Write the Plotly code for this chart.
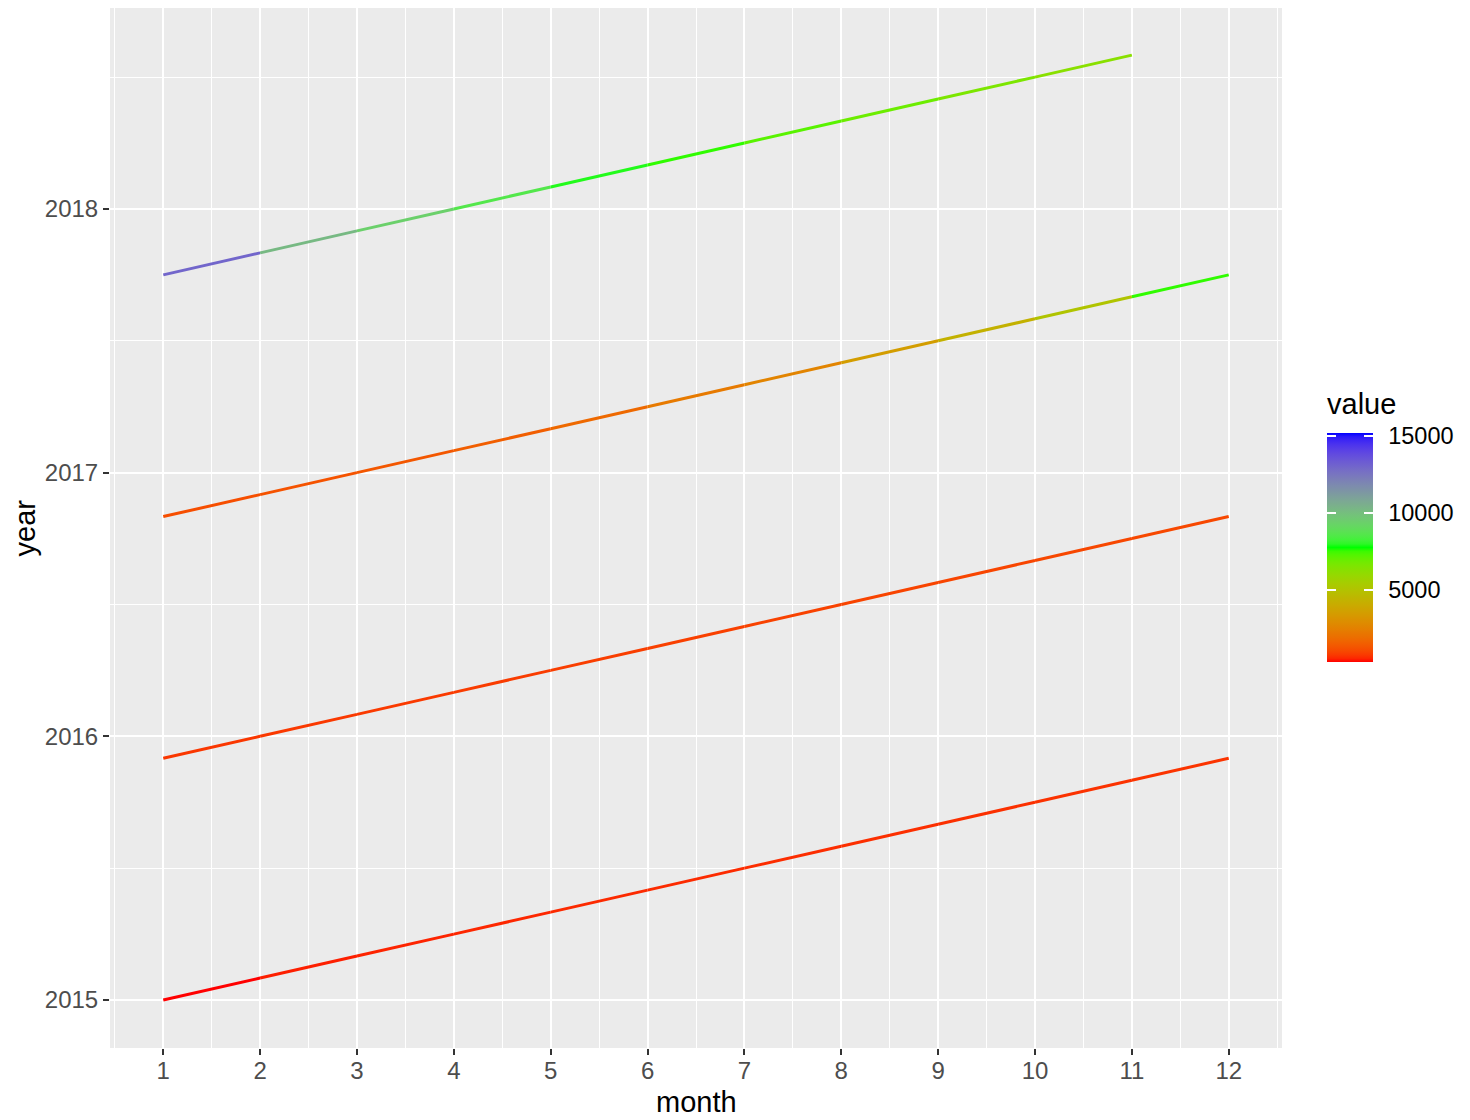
import plotly.graph_objects as go
import numpy as np

# ---------------- data ----------------
months = list(range(1, 13))
years = [2015, 2016, 2017, 2018]

# y position of each point (decimal year as drawn)
y_2015 = [2015 + (m - 1) / 12 for m in months]
y_2016 = [2015 + 11 / 12 + (m - 1) / 12 for m in months]
y_2017 = [2016 + 10 / 12 + (m - 1) / 12 for m in months]
y_2018 = [2017 + 9 / 12 + (m - 1) / 12 for m in months[:11]]

value_2015 = [325, 480, 520, 550, 580, 600, 620, 640, 660, 680, 700, 720]
value_2016 = [750, 780, 800, 830, 860, 890, 920, 950, 980, 1010, 1040, 1070]
value_2017 = [1150, 1250, 1350, 1500, 1800, 2300, 2600, 3500, 4300, 5100, 7600, 15200]
value_2018 = [13000, 10200, 9400, 8600, 7900, 7600, 7200, 6900, 6600, 6300, 6100]

series = [
    (months, y_2015, value_2015),
    (months, y_2016, value_2016),
    (months, y_2017, value_2017),
    (months[:11], y_2018, value_2018),
]

colorbar_ticks = [5000, 10000, 15000]
vmin = min(min(s[2]) for s in series)
vmax = max(max(s[2]) for s in series)

# ---------------- colour ramp (Lab interpolation like ggplot gradientn) ----------------
def _lin(c):
    c = c / 255.0
    return np.where(c <= 0.04045, c / 12.92, ((c + 0.055) / 1.055) ** 2.4)

def _delin(c):
    c = np.where(c <= 0.0031308, 12.92 * c, 1.055 * np.power(np.clip(c, 0, None), 1 / 2.4) - 0.055)
    return np.clip(c, 0, 1) * 255

M = np.array([[0.4124564, 0.3575761, 0.1804375],
              [0.2126729, 0.7151522, 0.0721750],
              [0.0193339, 0.1191920, 0.9503041]])
Minv = np.linalg.inv(M)
WHITE = np.array([0.95047, 1.0, 1.08883])

def rgb2lab(rgb):
    xyz = M @ _lin(np.array(rgb, dtype=float)) / WHITE
    f = np.where(xyz > 216 / 24389, np.cbrt(xyz), (24389 / 27 * xyz + 16) / 116)
    return np.array([116 * f[1] - 16, 500 * (f[0] - f[1]), 200 * (f[1] - f[2])])

def lab2rgb(lab):
    L, a, b = lab
    fy = (L + 16) / 116
    fx = fy + a / 500
    fz = fy - b / 200
    f = np.array([fx, fy, fz])
    xyz = np.where(f ** 3 > 216 / 24389, f ** 3, (116 * f - 16) / (24389 / 27)) * WHITE
    return _delin(Minv @ xyz)

ramp = [rgb2lab(c) for c in [(255, 0, 0), (0, 255, 0), (0, 0, 255)]]

def color_at(frac):
    frac = min(max(frac, 0.0), 1.0)
    seg = min(int(frac * 2), 1)
    t = frac * 2 - seg
    lab = ramp[seg] * (1 - t) + ramp[seg + 1] * t
    r, g, b = lab2rgb(lab)
    return "#%02x%02x%02x" % (int(round(r)), int(round(g)), int(round(b)))

def color_of(v):
    return color_at((v - vmin) / (vmax - vmin))

colorscale = [[i / 64, color_at(i / 64)] for i in range(65)]

# ---------------- figure ----------------
FONT = "Liberation Sans, Arial, Helvetica, sans-serif"
OFF = 8  # page body margin
FIG_W, FIG_H = 1470 - OFF, 1120 - OFF
# panel edges in page pixels
P_L, P_R, P_T, P_B = 110, 1282, 8, 1048
L, R, T, B = P_L - OFF, FIG_W - (P_R - OFF), P_T - OFF, FIG_H - (P_B - OFF)
PW, PH = P_R - P_L, P_B - P_T

def px(xp):
    return (xp - P_L) / PW

def py(yp):
    return (P_B - yp) / PH

fig = go.Figure()

for xs, ys, vs in series:
    for i in range(len(xs) - 1):
        fig.add_trace(go.Scatter(
            x=[xs[i], xs[i + 1]], y=[ys[i], ys[i + 1]],
            mode="lines", line=dict(color=color_of(vs[i]), width=3),
            showlegend=False, hoverinfo="skip"))

# colour bar carriers (labels, white tick marks, centre cover)
all_x = [x for s in series for x in s[0]]
all_y = [y for s in series for y in s[1]]
all_v = [v for s in series for v in s[2]]

BAR_X, BAR_W, BAR_TOP, BAR_BOT = 1327, 46, 433, 662
TICK_IN = 9

def cbar_trace(x_left, thickness, **cb):
    base = dict(thickness=thickness, len=BAR_BOT - BAR_TOP, lenmode="pixels",
                x=px(x_left), xanchor="left", xpad=0,
                y=py((BAR_TOP + BAR_BOT) / 2), yanchor="middle", ypad=0,
                outlinewidth=0,
                tickvals=colorbar_ticks, ticktext=[str(t) for t in colorbar_ticks])
    base.update(cb)
    return go.Scatter(
        x=all_x, y=all_y, mode="markers",
        marker=dict(size=0.1, opacity=0, color=all_v, colorscale=colorscale,
                    cmin=vmin, cmax=vmax, showscale=True, colorbar=base),
        showlegend=False, hoverinfo="skip")

fig.add_trace(cbar_trace(BAR_X, BAR_W, ticks="outside", ticklen=11,
                         tickcolor="rgba(0,0,0,0)",
                         tickfont=dict(family=FONT, size=23.5, color="#000000")))
fig.add_trace(cbar_trace(BAR_X, BAR_W, ticks="inside", ticklen=BAR_W,
                         tickwidth=1.5, tickcolor="white", showticklabels=False))
fig.add_trace(cbar_trace(BAR_X + TICK_IN, BAR_W - 2 * TICK_IN, ticks="",
                         showticklabels=False))

axis_common = dict(
    showline=False, zeroline=False, automargin=False,
    gridcolor="#FFFFFF", gridwidth=2.4,
    ticks="outside", ticklen=6, tickwidth=2, tickcolor="#333333",
    tickfont=dict(family=FONT, size=24, color="#4D4D4D"),
)

fig.update_layout(
    width=FIG_W, height=FIG_H,
    paper_bgcolor="white", plot_bgcolor="#EBEBEB",
    margin=dict(l=L, r=R, t=T, b=B, autoexpand=False),
    font=dict(family=FONT),
    xaxis=dict(
        range=[0.45, 12.55], tickmode="array", tickvals=months,
        ticktext=[str(m) for m in months], ticklabelstandoff=-5,
        minor=dict(dtick=0.5, tick0=0.5, gridcolor="#FFFFFF", gridwidth=1.2, showgrid=True, ticks=""),
        **axis_common),
    yaxis=dict(
        range=[2014.818, 2018.762], tickmode="array", tickvals=years,
        ticktext=[str(y) for y in years],
        minor=dict(dtick=0.5, tick0=2014.5, gridcolor="#FFFFFF", gridwidth=1.2, showgrid=True, ticks=""),
        **axis_common),
    annotations=[
        dict(text="value", xref="paper", yref="paper",
             x=px(1325), y=py(422),
             xanchor="left", yanchor="bottom", showarrow=False,
             font=dict(family=FONT, size=29, color="#000000")),
        dict(text="month", xref="paper", yref="paper",
             x=0.5, y=py(1102),
             xanchor="center", yanchor="middle", showarrow=False,
             font=dict(family=FONT, size=29, color="#000000")),
        dict(text="year", xref="paper", yref="paper",
             x=px(24.5), y=0.5, textangle=-90, borderpad=0,
             xanchor="center", yanchor="middle", showarrow=False,
             font=dict(family=FONT, size=29, color="#000000")),
    ],
)

fig.write_html("out.html")
